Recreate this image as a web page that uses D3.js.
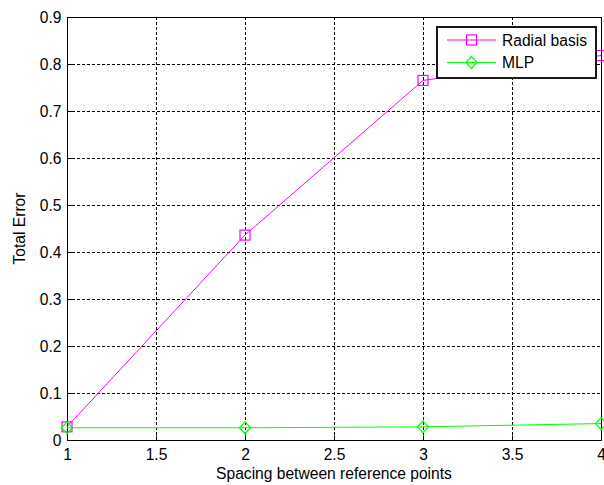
<!DOCTYPE html>
<html><head><meta charset="utf-8">
<script src="https://cdn.jsdelivr.net/npm/d3@7"></script>
<style>body{margin:0;background:#fff}svg{display:block}text{font-family:"Liberation Sans",Arial,sans-serif}</style>
</head><body><svg id="c" width="604" height="485"></svg>
<script>
const spacing = [1, 2, 3, 4];
const radialBasis = [0.028, 0.436, 0.765, 0.818];
const mlp = [0.026, 0.026, 0.028, 0.035];
const xTicks = [1, 1.5, 2, 2.5, 3, 3.5, 4];
const yTicks = [0, 0.1, 0.2, 0.3, 0.4, 0.5, 0.6, 0.7, 0.8, 0.9];
const seriesNames = ["Radial basis", "MLP"];
const seriesColors = ["#ff00ff", "#00ff00"];

const FS = 15.6;
const svg = d3.select("#c");
const L = 67, R = 601, T = 17, B = 440;
const x = d3.scaleLinear().domain([1, 4]).range([L, R]);
const y = d3.scaleLinear().domain([0, 0.9]).range([B, T]);

// grid
const g = svg.append("g");
g.selectAll(".gx").data(xTicks).join("line")
  .attr("x1", d => Math.round(x(d)) + 0.5).attr("x2", d => Math.round(x(d)) + 0.5).attr("y1", T).attr("y2", B)
  .attr("stroke", "#000").attr("stroke-width", 1).attr("stroke-dasharray", "3,2");
g.selectAll(".gy").data(yTicks).join("line")
  .attr("y1", d => Math.round(y(d)) + 0.5).attr("y2", d => Math.round(y(d)) + 0.5).attr("x1", L).attr("x2", R)
  .attr("stroke", "#000").attr("stroke-width", 1).attr("stroke-dasharray", "3,2");

// axes
const fmt = d => d === 0 ? "0" : String(d);
const xAxis = d3.axisBottom(x).tickValues(xTicks).tickFormat(fmt).tickSizeInner(-5).tickSizeOuter(0).tickPadding(8);
const yAxis = d3.axisLeft(y).tickValues(yTicks).tickFormat(fmt).tickSizeInner(-5).tickSizeOuter(0).tickPadding(6);
const gx = svg.append("g").attr("transform", `translate(0,${B + 0.5})`).call(xAxis);
const gy = svg.append("g").attr("transform", `translate(${L + 0.5},0)`).call(yAxis);
[gx, gy].forEach(a => {
  a.select(".domain").remove();
  a.selectAll("line").attr("stroke", "#000");
  a.selectAll("text").attr("font-size", FS).attr("fill", "#000").attr("font-family", "'Liberation Sans',Arial,sans-serif");
});
gx.selectAll("text").attr("dy", "0.71em");
// box
svg.append("rect").attr("x", L + 0.5).attr("y", T + 0.5).attr("width", R - L).attr("height", B - T)
  .attr("fill", "none").attr("stroke", "#000").attr("stroke-width", 1);

// series
const data = [radialBasis, mlp];
const line = d3.line().x((d, i) => x(spacing[i])).y(d => y(d));
data.forEach((s, k) => {
  svg.append("path").datum(s).attr("d", line).attr("fill", "none").attr("stroke", seriesColors[k]).attr("stroke-width", 1);
});
function marker(sel, k, cx, cy) {
  if (k === 0) {
    sel.append("rect").attr("x", cx - 5).attr("y", cy - 5).attr("width", 10).attr("height", 10)
      .attr("fill", "none").attr("stroke", seriesColors[0]).attr("stroke-width", 1.2);
  } else {
    sel.append("path").attr("d", `M${cx},${cy - 6}L${cx + 5.5},${cy}L${cx},${cy + 6}L${cx - 5.5},${cy}Z`)
      .attr("fill", "none").attr("stroke", seriesColors[1]).attr("stroke-width", 1.2);
  }
}
data.forEach((s, k) => s.forEach((v, i) => marker(svg, k, x(spacing[i]), y(v))));

// legend
const lg = svg.append("g");
lg.append("rect").attr("x", 437).attr("y", 27).attr("width", 159).attr("height", 51)
  .attr("fill", "#fff").attr("stroke", "#000").attr("stroke-width", 1.8);
seriesNames.forEach((n, k) => {
  const ly = 40 + k * 22.5;
  lg.append("line").attr("x1", 447).attr("x2", 496).attr("y1", ly).attr("y2", ly).attr("stroke", seriesColors[k]);
  marker(lg, k, 471.5, ly);
  lg.append("text").attr("x", 502).attr("y", ly).attr("dy", "0.36em").attr("font-size", FS).text(n);
});

// labels
svg.append("text").attr("x", (L + R) / 2).attr("y", 479).attr("text-anchor", "middle").attr("font-size", FS).text("Spacing between reference points");
svg.append("text").attr("transform", `translate(25,${(T + B) / 2}) rotate(-90)`).attr("text-anchor", "middle").attr("font-size", FS).text("Total Error");
</script></body></html>
